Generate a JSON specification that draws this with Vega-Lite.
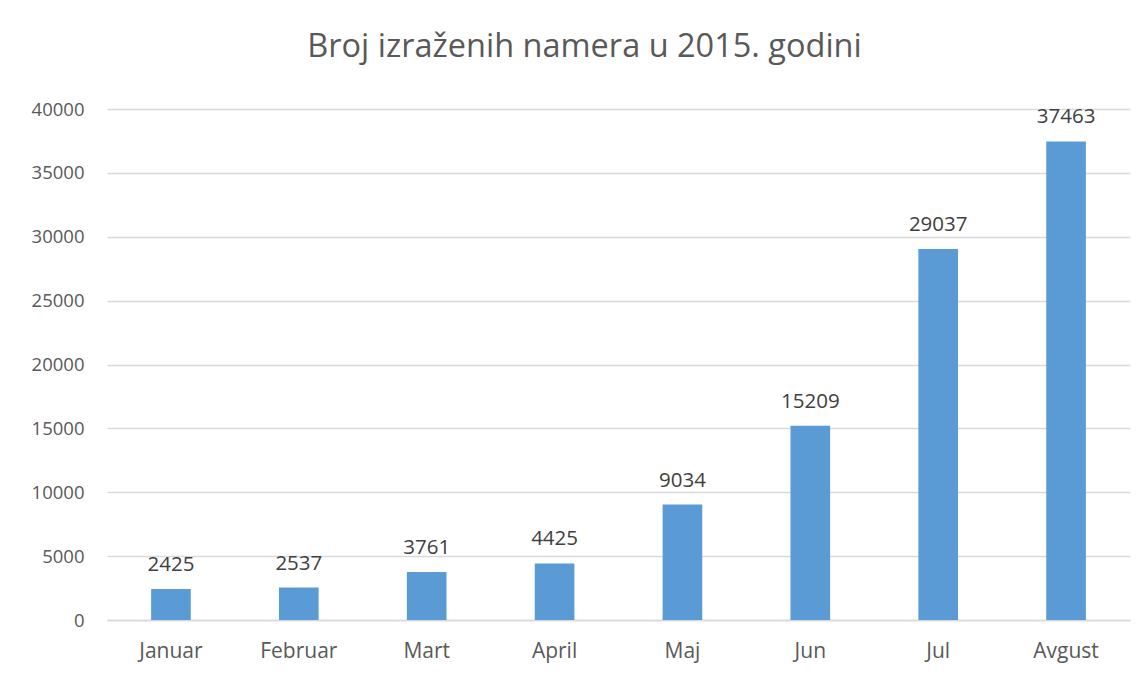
{
  "$schema": "https://vega.github.io/schema/vega-lite/v6.json",
  "width": 1023,
  "height": 511,
  "autosize": {"type": "none"},
  "padding": {"left": 107, "top": 109, "right": 15, "bottom": 57},
  "background": "white",
  "title": {
    "text": "Broj izraženih namera u 2015. godini",
    "font": "Open Sans",
    "fontSize": 32.5,
    "fontWeight": "normal",
    "color": "#595959",
    "anchor": "middle",
    "frame": "group",
    "dx": -34,
    "offset": 37
  },
  "data": {
    "values": [
      {"mesec": "Januar", "broj": 2425},
      {"mesec": "Februar", "broj": 2537},
      {"mesec": "Mart", "broj": 3761},
      {"mesec": "April", "broj": 4425},
      {"mesec": "Maj", "broj": 9034},
      {"mesec": "Jun", "broj": 15209},
      {"mesec": "Jul", "broj": 29037},
      {"mesec": "Avgust", "broj": 37463}
    ]
  },
  "encoding": {
    "x": {
      "field": "mesec",
      "type": "nominal",
      "sort": null,
      "scale": {"paddingInner": 0.69, "paddingOuter": 0.345},
      "axis": {
        "title": null,
        "labelAngle": 0,
        "labelFont": "Open Sans",
        "labelFontSize": 21,
        "labelColor": "#595959",
        "labelPadding": 20,
        "ticks": false,
        "domainColor": "#D9D9D9",
        "domainWidth": 1.3
      }
    },
    "y": {
      "field": "broj",
      "type": "quantitative",
      "scale": {"domain": [0, 40000], "nice": false},
      "axis": {
        "title": null,
        "values": [0, 5000, 10000, 15000, 20000, 25000, 30000, 35000, 40000],
        "format": "d",
        "labelFont": "Open Sans",
        "labelFontSize": 18.5,
        "labelColor": "#595959",
        "labelPadding": 23,
        "ticks": false,
        "domain": false,
        "gridColor": "#D9D9D9",
        "gridWidth": 1.3
      }
    }
  },
  "layer": [
    {"mark": {"type": "bar", "color": "#5B9BD5"}},
    {
      "mark": {"type": "text", "baseline": "bottom", "dy": -14, "font": "Open Sans", "fontSize": 20.5, "color": "#404040"},
      "encoding": {"text": {"field": "broj", "type": "quantitative", "format": "d"}}
    }
  ],
  "config": {"view": {"stroke": null}}
}
